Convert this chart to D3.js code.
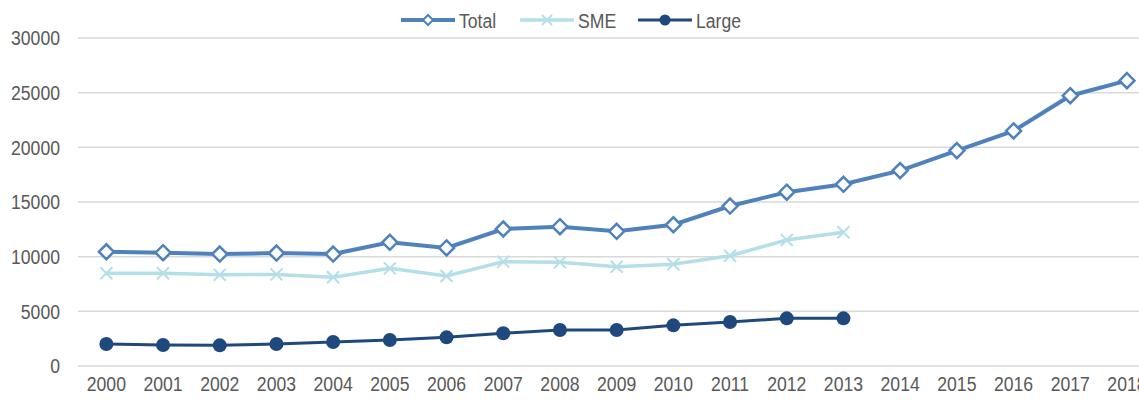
<!DOCTYPE html>
<html>
<head>
<meta charset="utf-8">
<script src="https://cdn.jsdelivr.net/npm/d3@7"></script>
<style>
  body { margin: 0; background: #fff; }
  text { font-family: "Liberation Sans Narrow", "Arial Narrow", "Liberation Sans", sans-serif; fill: #595959; }
</style>
</head>
<body>
<div id="chart"></div>
<script>
// years on the category axis
var years = ['2000','2001','2002','2003','2004','2005','2006','2007','2008','2009',
             '2010','2011','2012','2013','2014','2015','2016','2017','2018'];

// series values
var totalValues = [10450, 10360, 10240, 10330, 10240, 11310, 10800, 12530, 12740, 12320,
                   12920, 14630, 15900, 16620, 17870, 19700, 21500, 24720, 26100];
var smeValues = [8480, 8480, 8340, 8380, 8110, 8930, 8230, 9540, 9480, 9080,
                 9300, 10090, 11520, 12230];
var largeValues = [2010, 1920, 1890, 2010, 2200, 2380, 2620, 2990, 3290, 3290,
                   3720, 4020, 4360, 4360];

var yTicks = [0, 5000, 10000, 15000, 20000, 25000, 30000];

var width = 1139, height = 401;
var margin = { top: 38, left: 78, bottom: 35 };
var squeeze = 'scale(0.84,1)'; // the original uses a narrow face

var svg = d3.select('#chart').append('svg')
    .attr('width', width)
    .attr('height', height);

// band runs past the right edge, last year is clipped like the original
var x = d3.scaleBand()
    .domain(years)
    .range([margin.left, margin.left + 19 * 56.7]);

var y = d3.scaleLinear()
    .domain([0, 30000])
    .range([height - margin.bottom, margin.top]);

var cx = function(i) { return x(years[i]) + x.bandwidth() / 2; };

// gridlines
svg.append('g')
  .selectAll('line')
  .data(yTicks)
  .enter().append('line')
    .attr('x1', margin.left)
    .attr('x2', width)
    .attr('y1', function(d) { return y(d); })
    .attr('y2', function(d) { return y(d); })
    .attr('stroke', '#d9d9d9')
    .attr('stroke-width', 1.5);

// y axis labels
var yAxis = d3.axisLeft(y).tickValues(yTicks).tickSize(0).tickPadding(0).tickFormat(d3.format('d'));
svg.append('g')
    .attr('transform', 'translate(60,0)')
    .call(yAxis)
    .call(function(g) { g.select('.domain').remove(); })
    .selectAll('text')
    .style('font-size', '21px')
    .attr('transform', squeeze)
    .attr('fill', '#595959');

// x axis labels
var xAxis = d3.axisBottom(x).tickSize(0).tickPadding(0);
svg.append('g')
    .attr('transform', 'translate(0,' + (height - margin.bottom + 10) + ')')
    .call(xAxis)
    .call(function(g) { g.select('.domain').remove(); })
    .selectAll('text')
    .style('font-size', '21px')
    .attr('transform', squeeze)
    .attr('fill', '#595959');

var line = d3.line()
    .x(function(d, i) { return cx(i); })
    .y(function(d) { return y(d); });

var colTotal = '#4f81bd', colSme = '#b4dfe9', colLarge = '#1f497d';

// SME
svg.append('path').datum(smeValues)
    .attr('d', line).attr('fill', 'none')
    .attr('stroke', colSme).attr('stroke-width', 3.5);
svg.append('g').selectAll('path')
    .data(smeValues)
    .enter().append('path')
    .attr('transform', function(d, i) { return 'translate(' + cx(i) + ',' + y(d) + ')'; })
    .attr('d', 'M-6,-6L6,6M-6,6L6,-6')
    .attr('stroke', colSme).attr('stroke-width', 2).attr('fill', 'none');

// Large
svg.append('path').datum(largeValues)
    .attr('d', line).attr('fill', 'none')
    .attr('stroke', colLarge).attr('stroke-width', 3);
svg.append('g').selectAll('circle')
    .data(largeValues)
    .enter().append('circle')
    .attr('cx', function(d, i) { return cx(i); })
    .attr('cy', function(d) { return y(d); })
    .attr('r', 7)
    .attr('fill', colLarge);

// Total
svg.append('path').datum(totalValues)
    .attr('d', line).attr('fill', 'none')
    .attr('stroke', colTotal).attr('stroke-width', 4);
svg.append('g').selectAll('path')
    .data(totalValues)
    .enter().append('path')
    .attr('transform', function(d, i) { return 'translate(' + cx(i) + ',' + y(d) + ')'; })
    .attr('d', 'M0,-7.5L7.5,0L0,7.5L-7.5,0Z')
    .attr('fill', '#fff')
    .attr('stroke', colTotal).attr('stroke-width', 2.5);

// legend
var legend = [
  { name: 'Total', color: colTotal, x: 401, w: 4 },
  { name: 'SME', color: colSme, x: 520, w: 3.5 },
  { name: 'Large', color: colLarge, x: 638, w: 3 }
];
var lg = svg.append('g').selectAll('g')
    .data(legend)
    .enter().append('g')
    .attr('transform', function(d) { return 'translate(' + d.x + ',20)'; });
lg.append('line')
    .attr('x1', 0).attr('x2', 54)
    .attr('stroke', function(d) { return d.color; })
    .attr('stroke-width', function(d) { return d.w; });
lg.append('text')
    .attr('transform', 'translate(58,7.5) ' + squeeze)
    .style('font-size', '21px')
    .text(function(d) { return d.name; });
lg.filter(function(d) { return d.name === 'Total'; }).append('path')
    .attr('d', 'M27,-5L32,0L27,5L22,0Z')
    .attr('fill', '#fff').attr('stroke', colTotal).attr('stroke-width', 2);
lg.filter(function(d) { return d.name === 'SME'; }).append('path')
    .attr('d', 'M22,-5L32,5M22,5L32,-5')
    .attr('stroke', colSme).attr('stroke-width', 2);
lg.filter(function(d) { return d.name === 'Large'; }).append('circle')
    .attr('cx', 27).attr('r', 5.5).attr('fill', colLarge);
</script>
</body>
</html>
